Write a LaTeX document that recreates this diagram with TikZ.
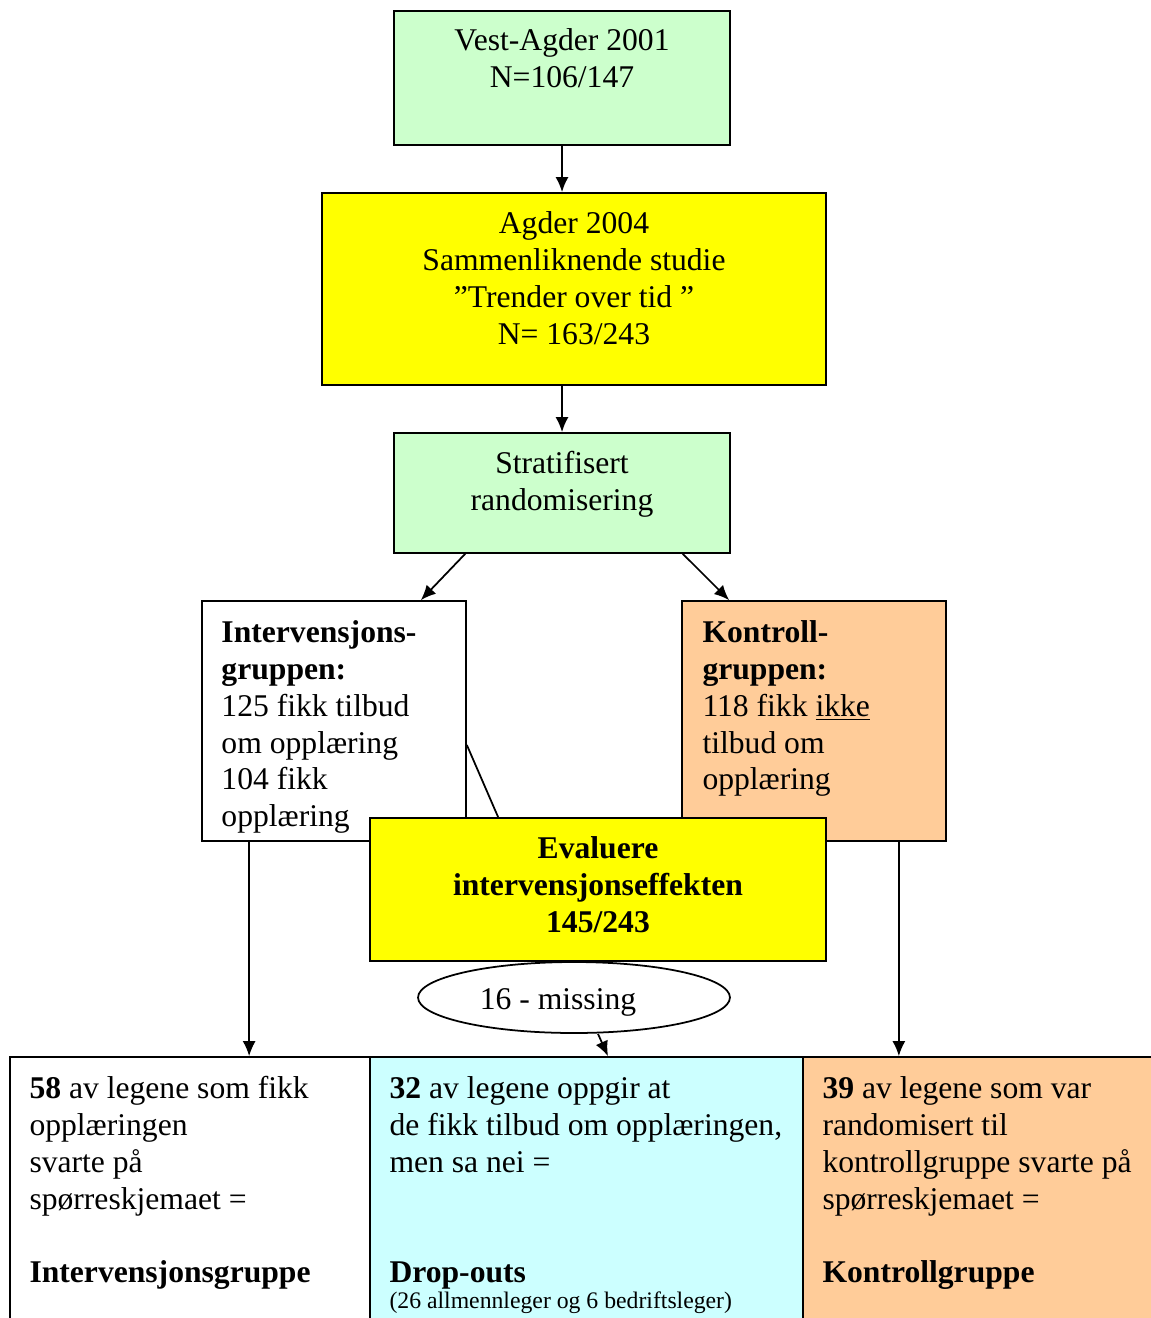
\documentclass[tikz,border=0pt]{standalone}
\usepackage{fontspec}
\setmainfont{Liberation Serif}
\usetikzlibrary{positioning,arrows.meta,shapes.geometric}
\definecolor{lgreen}{HTML}{CCFFCC}
\definecolor{lyellow}{HTML}{FFFF00}
\definecolor{lorange}{HTML}{FFCC99}
\definecolor{lcyan}{HTML}{CCFFFF}
\begin{document}
\begin{tikzpicture}[x=0.02cm,y=-0.02cm,
  box/.style={draw,line width=1pt,inner sep=0pt,minimum width=#1},
  txt/.style={inner sep=0pt,font=\fontsize{18}{21}\selectfont},
  arr/.style={-{Latex[length=0.3cm,width=0.26cm]},line width=1pt}]
  \useasboundingbox (0,0) rectangle (1151,1318);
  \clip (0,0) rectangle (1151,1318);
  % boxes at the top
  \node[box=6.72cm,minimum height=2.68cm,fill=lgreen] (vest) at (562,78) {};
  \node[txt,align=center,below=0.28cm of vest.north] (vesttxt) {\strut Vest-Agder 2001\\N=106/147};
  \node[box=10.08cm,minimum height=3.84cm,fill=lyellow] (agder) at (574,289) {};
  \node[txt,align=center,below=0.31cm of agder.north] (agdertxt) {\strut Agder 2004\\Sammenliknende studie\\”Trender over tid ”\\N= 163/243};
  \node[box=6.72cm,minimum height=2.4cm,fill=lgreen] (strat) at (562,493) {};
  \node[txt,align=center,below=0.3cm of strat.north] (strattxt) {\strut Stratifisert\\randomisering};
  % the two groups
  \node[box=5.28cm,minimum height=4.8cm,fill=white] (interv) at (334,721) {};
  \node[txt,align=left,below right=0.32cm and 0.4cm of interv.north west] (intervtxt) {\strut\textbf{Intervensjons-}\\\textbf{gruppen:}\\125 fikk tilbud\\om opplæring\\104 fikk\\opplæring};
  \node[box=5.28cm,minimum height=4.8cm,fill=lorange] (kontr) at (814,721) {};
  \node[txt,align=left,below right=0.32cm and 0.42cm of kontr.north west] (kontrtxt) {\strut\textbf{Kontroll-}\\\textbf{gruppen:}\\118 fikk \underline{ikke}\\tilbud om\\opplæring};
  \node[box=9.12cm,minimum height=2.86cm,fill=lyellow] (eval) at (598,889.5) {};
  \node[txt,align=center,below=0.3cm of eval.north] (evaltxt) {\strut\textbf{Evaluere}\\\textbf{intervensjonseffekten}\\\textbf{145/243}};
  \draw[line width=1pt] ([yshift=-0.48cm]interv.east) -- ([xshift=2.58cm]eval.north west);
  \node[ellipse,draw,line width=1pt,fill=white,minimum width=6.24cm,minimum height=1.42cm] (ellip) at (574,997.5) {};
  \node[txt] (misstxt) at ([xshift=-0.32cm,yshift=-0.1cm]ellip.center) {16 - missing};
  % bottom row
  \node[box=7.2cm,minimum height=5.66cm,fill=white] (left) at (190,1198.5) {};
  \node[txt,align=left,below right=0.32cm and 0.4cm of left.north west] (lefttxt) {\strut\textbf{58} av legene som fikk\\opplæringen\\svarte på\\spørreskjemaet =\\[21pt]\textbf{Intervensjonsgruppe}};
  \node[box=8.66cm,minimum height=5.66cm,fill=lcyan] (mid) at (586.5,1198.5) {};
  \node[txt,align=left,below right=0.32cm and 0.4cm of mid.north west] (midtxt) {\strut\textbf{32} av legene oppgir at\\de fikk tilbud om opplæringen,\\men sa nei =\\[42pt]\textbf{Drop-outs}\\[-6.2pt]{\fontsize{13.5}{15}\selectfont (26 allmennleger og 6 bedriftsleger)}};
  \node[box=7.34cm,minimum height=5.66cm,fill=lorange] (right) at (986.5,1198.5) {};
  \node[txt,align=left,below right=0.32cm and 0.4cm of right.north west] (righttxt) {\strut\textbf{39} av legene som var\\randomisert til\\kontrollgruppe svarte på\\spørreskjemaet =\\[21pt]\textbf{Kontrollgruppe}};
  % arrows
  \coordinate (ia) at ([xshift=0.96cm]interv.south west);
  \coordinate (ka) at ([xshift=-0.96cm]kontr.south east);
  \draw[arr] (vest.south) -- (vest.south |- agder.north);
  \draw[arr] (strat.north |- agder.south) -- (strat.north);
  \draw[arr] ([xshift=1.44cm]strat.south west) -- ([xshift=-0.92cm]interv.north east);
  \draw[arr] ([xshift=-0.96cm]strat.south east) -- ([xshift=0.96cm]kontr.north west);
  \draw[arr] (ia) -- (ia |- left.north);
  \draw[arr] (ka) -- (ka |- right.north);
  \draw[arr] ([xshift=0.48cm]ellip.south) -- ([xshift=0.43cm]mid.north);
\end{tikzpicture}
\end{document}
